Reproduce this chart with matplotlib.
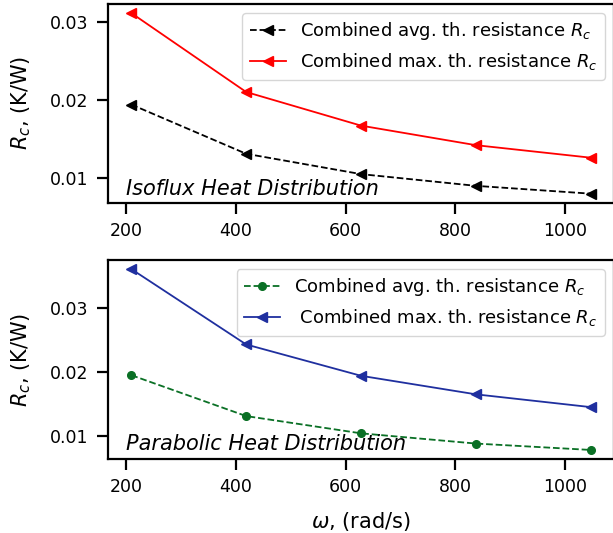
import matplotlib
matplotlib.use("Agg")
import matplotlib.pyplot as plt
import numpy as np

omega = [209.4, 418.9, 628.3, 837.8, 1047.2]
iso_avg = [0.0194, 0.0131, 0.0105, 0.0090, 0.0080]
iso_max = [0.0311, 0.0210, 0.0167, 0.0142, 0.0126]
par_avg = [0.0195, 0.0131, 0.0104, 0.0088, 0.0078]
par_max = [0.0361, 0.0243, 0.0194, 0.0165, 0.0145]
yticks = [0.01, 0.02, 0.03]
ytick_labels = ['0.01', '0.02', '0.03']
xticks = [200, 400, 600, 800, 1000]

plt.rcParams['font.size'] = 12
plt.rcParams['axes.linewidth'] = 1.6

fig = plt.figure(figsize=(6.13, 5.33), dpi=100)
W, H = 613, 533
ax1 = fig.add_axes([108.3 / W, (H - 202.7) / H, 505.5 / W, 198.7 / H])
ax2 = fig.add_axes([108.3 / W, (H - 459) / H, 505.5 / W, 199 / H])

ax1.plot(omega, iso_avg, 'k--<', lw=1.3, ms=6.5, label=r'Combined avg. th. resistance $R_c$')
ax1.plot(omega, iso_max, '-<', color='#ff0000', lw=1.3, ms=6.5, label=r'Combined max. th. resistance $R_c$')
ax2.plot(omega, par_avg, '--o', color='#0a7025', lw=1.3, ms=5.5, label=r'Combined avg. th. resistance $R_c$')
ax2.plot(omega, par_max, '-<', color='#1f2f9f', lw=1.3, ms=6.5, label=r' Combined max. th. resistance $R_c$')

for ax, name, ty in [(ax1, 'Isoflux Heat Distribution', 0.039), (ax2, 'Parabolic Heat Distribution', 0.045)]:
    ax.set_yticks(yticks)
    ax.set_yticklabels(ytick_labels)
    ax.set_xticks(xticks)
    ax.tick_params(length=8, width=1.6, labelsize=12.5, pad=6)
    ax.set_ylabel(r'$R_c$, (K/W)', fontsize=15)
    ax.yaxis.set_label_coords(-0.149, 0.5)
    ax.legend(loc='upper right', fontsize=13)
    ax.text(0.036, ty, name, transform=ax.transAxes, style='italic', fontsize=15, va='baseline')

ax2.set_xlabel(r'$\omega$, (rad/s)', fontsize=15, va='top')
ax2.xaxis.set_label_coords(0.5, -0.256)

fig.savefig('out.png', dpi=100)
